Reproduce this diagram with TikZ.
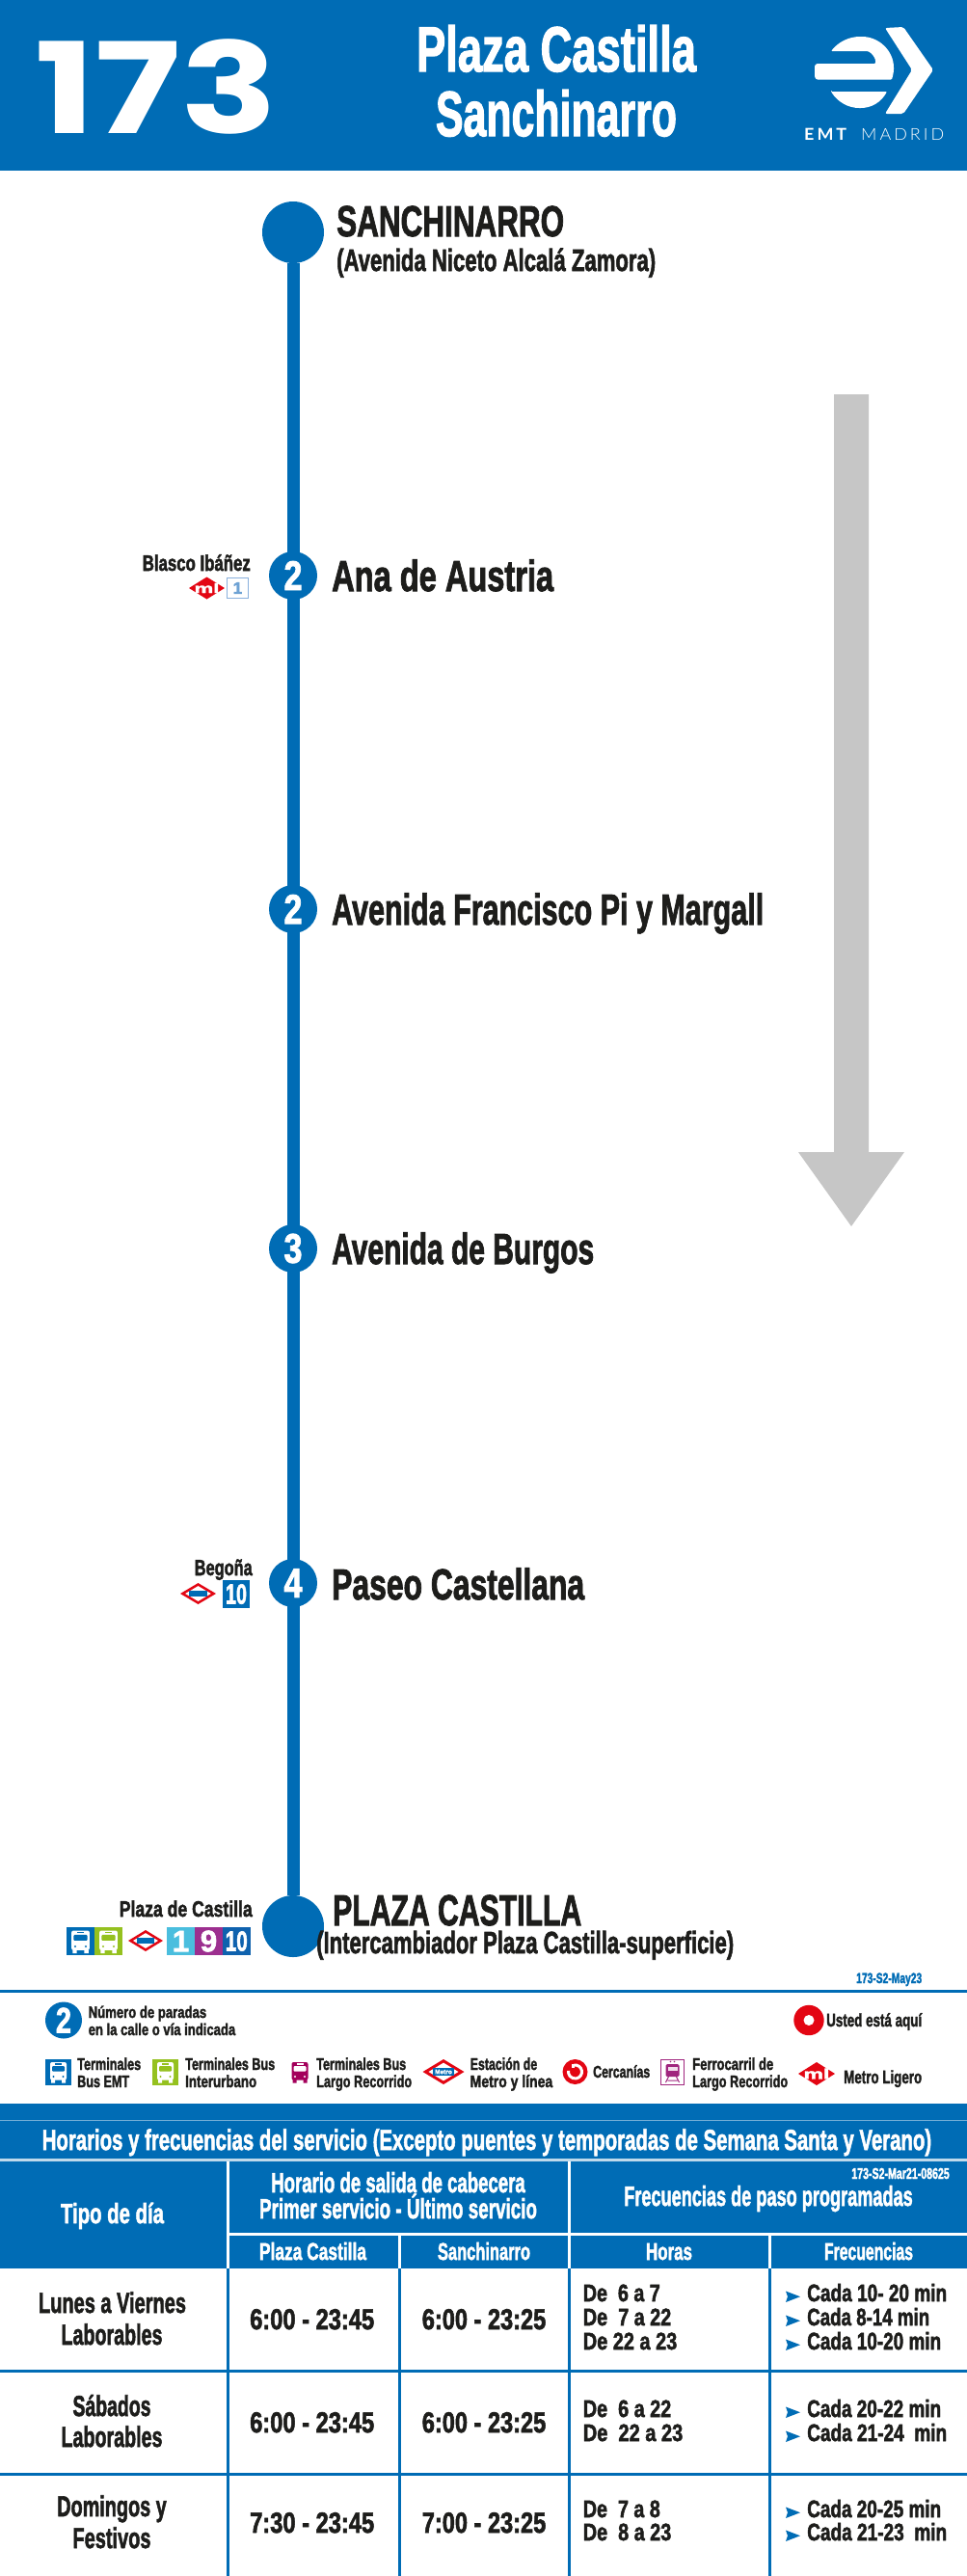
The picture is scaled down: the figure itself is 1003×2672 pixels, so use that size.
\documentclass[tikz,border=0pt]{standalone}
\usepackage{graphicx}
\usepackage{fontspec}
\setmainfont{Liberation Sans}[BoldFeatures={FakeBold=2.2}]
\newfontfamily\numfont{Poppins}
\newfontfamily\logofont{Lato}
\newfontfamily\logolight{Lato Light}
\definecolor{emt}{HTML}{006CB5}
\definecolor{ink}{HTML}{1D1D1B}
\definecolor{arrowgray}{HTML}{C6C6C6}
\definecolor{mred}{HTML}{E30613}
\definecolor{busgreen}{HTML}{95C11F}
\definecolor{lila}{HTML}{A4005B}
\definecolor{ferro}{HTML}{A0267E}
\definecolor{mone}{HTML}{4ABEDE}
\definecolor{mnine}{HTML}{9C2F8F}
\definecolor{mten}{HTML}{0F62AE}
\definecolor{mlblue}{HTML}{8AB0DC}
\tikzset{
  tw/.style={anchor=base west,inner sep=0pt,text=ink},
  tc/.style={anchor=base,inner sep=0pt,text=ink},
  te/.style={anchor=base east,inner sep=0pt,text=ink},
  stopdot/.style={circle,fill=emt,minimum size=50pt,inner sep=0pt,text=white},
  termdot/.style={circle,fill=emt,minimum size=64pt,inner sep=0pt},
  route/.style={draw=emt,line width=13pt},
  sq/.style={rectangle,minimum width=28.6pt,minimum height=29pt,inner sep=0pt,text=white},
  vrule/.style={line width=3pt},
  hrule/.style={line width=3pt}
}
\newcommand\T[7]{\node[#1] (#2) at (#3,#4) {\resizebox{#5pt}{\height}{\fontsize{#6pt}{#6pt}\selectfont\bfseries #7}};}
\newcommand\dig[1]{\resizebox{19pt}{\height}{\fontsize{43pt}{43pt}\selectfont\bfseries #1}}
\newcommand\busicon[5]{\begin{scope}[shift={(#1,#2)},scale=#3]
  \fill[#4,rounded corners=2pt] (-8.5,-10) rectangle (8.5,8.5);
  \fill[#4] (-7.5,8) rectangle (-3.5,11.5) (3.5,8) rectangle (7.5,11.5);
  \fill[#5,rounded corners=1pt] (-6.5,-6) rectangle (6.5,-0.5);
  \fill[#5] (-3.5,-8.6) rectangle (3.5,-7.4);
  \fill[#5] (-5,5) circle (1.1) (5,5) circle (1.1);
\end{scope}}
\newcommand\metrodia[5]{\begin{scope}[shift={(#1,#2)}]
  \fill[mred] (-#3/2,0) -- (0,-#4/2) -- (#3/2,0) -- (0,#4/2) -- cycle;
  \fill[white] (-#3/2*.72,0) -- (0,-#4/2*.72) -- (#3/2*.72,0) -- (0,#4/2*.72) -- cycle;
  \fill[emt] (-#3*.26,-#4*.14) rectangle (#3*.26,#4*.14);
  #5
\end{scope}}
\newcommand\mllogo[7]{\begin{scope}[shift={(#1,#2)}]
  \fill[mred] (-#3/2,0) -- (0,-#4/2) -- (#3/2,0) -- (0,#4/2) -- cycle;
  \node[inner sep=0pt,text=white] (#5) at (0,0) {\resizebox{#6pt}{\height}{\fontsize{#7pt}{#7pt}\selectfont\bfseries ml}};
\end{scope}}
\newcommand\chev[2]{\fill[emt] (#1,#2-11.5) -- (#1+15,#2-5.8) -- (#1,#2) -- (#1+2,#2-5.8) -- cycle;}
\begin{document}
\begin{tikzpicture}[x=1pt,y=-1pt]
\useasboundingbox (0,0) rectangle (1003,2672);
\fill[white] (0,0) rectangle (1003,2672);
% header
\fill[emt] (0,0) rectangle (1003,177);
\node[anchor=base west,inner sep=0pt,text=white] (num) at (36,138) {\resizebox{252pt}{\height}{\fontsize{131pt}{131pt}\selectfont\numfont\bfseries 173}};
\T{tc,text=white}{hA}{577}{74}{290}{66}{Plaza Castilla}
\T{tc,text=white}{hB}{577}{141}{250}{66}{Sanchinarro}
% logo
\fill[white,rounded corners=2pt] (918,29) -- (937,28) -- (968,72.5) -- (937,118) -- (918,118) -- (946,72.5) -- cycle;
\fill[white,rounded corners=1pt] (862,53) .. controls (870,43) and (881,38) .. (893,38) .. controls (912,38) and (927,53) .. (927,71) .. controls (927,75) and (926,79) .. (925,82.5) -- (847,82.5) -- (845,80) -- (845,68) -- (847,66) -- (908,66) -- (908,62) .. controls (906,57) and (902,53) .. (898,53) -- cycle;
\fill[white,rounded corners=1pt] (862,95) -- (920,95) .. controls (914,106) and (904,112) .. (892,112) .. controls (880,112) and (869,106) .. (862,95) -- cycle;
\node[anchor=base west,inner sep=0pt,text=white] (emtA) at (834,145) {\resizebox{44pt}{\height}{\fontsize{17pt}{17pt}\selectfont\logofont\bfseries E\,M\,T}};
\node[anchor=base west,inner sep=0pt,text=white] (emtB) at (893,145) {\resizebox{86pt}{\height}{\fontsize{17pt}{17pt}\selectfont\logolight M\,A\,D\,R\,I\,D}};
% gray arrow
\fill[arrowgray] (865,409) -- (901,409) -- (901,1195) -- (938,1195) -- (883,1272) -- (828,1195) -- (865,1195) -- cycle;
% route
\node[termdot] (top) at (304,241) {};
\node[termdot] (bot) at (304,1998) {};
\draw[route] (top) -- (bot);
\node[stopdot] (s1) at (304,597) {\dig{2}};
\node[stopdot] (s2) at (304,943) {\dig{2}};
\node[stopdot] (s3) at (304,1295) {\dig{3}};
\node[stopdot] (s4) at (304,1642) {\dig{4}};
\T{tw}{tA}{349}{245}{236}{45}{SANCHINARRO}
\T{tw}{tB}{349}{281}{331}{32}{(Avenida Niceto Alcalá Zamora)}
\T{tw}{lA}{344}{613}{230}{45}{Ana de Austria}
\T{tw}{lB}{344}{959}{448}{45}{Avenida Francisco Pi y Margall}
\T{tw}{lC}{344}{1311}{272}{45}{Avenida de Burgos}
\T{tw}{lD}{344}{1659}{262}{45}{Paseo Castellana}
\T{tw}{tC}{345}{1997}{258}{45}{PLAZA CASTILLA}
\T{tw}{tD}{328}{2026}{433}{32}{(Intercambiador Plaza Castilla-superficie)}
% side labels
\T{te}{xA}{260}{592}{112}{23}{Blasco Ibáñez}
\mllogo{214.5}{610}{37}{23}{mlA}{26}{14}
\node[rectangle,draw=mlblue,line width=1.2pt,minimum width=21.5pt,minimum height=21pt,inner sep=0pt,text=mlblue!80!emt] (boxA) at (246.5,610) {\fontsize{17pt}{17pt}\selectfont\bfseries 1};
\T{te}{xB}{262}{1634}{60}{23}{Begoña}
\metrodia{205.5}{1653}{37}{22}{}
\node[sq,fill=emt] (boxB) at (245,1653.5) {\resizebox{22pt}{\height}{\fontsize{29pt}{29pt}\selectfont\bfseries 10}};
\T{te}{xC}{262}{1988}{138}{23}{Plaza de Castilla}
\fill[emt] (69,1999) rectangle (98,2028);
\fill[busgreen] (98,1999) rectangle (127,2028);
\busicon{83.5}{2013.5}{1.1}{white}{emt}
\busicon{112.5}{2013.5}{1.1}{white}{busgreen}
\metrodia{151}{2013}{36}{22}{}
\node[sq,fill=mone] (boxC) at (187.5,2013.5) {\fontsize{31pt}{31pt}\selectfont\bfseries 1};
\node[sq,fill=mnine] (boxD) at (216.5,2013.5) {\fontsize{31pt}{31pt}\selectfont\bfseries 9};
\node[sq,fill=mten] (boxE) at (245.3,2013.5) {\resizebox{23pt}{\height}{\fontsize{29pt}{29pt}\selectfont\bfseries 10}};
% code + rule
\T{tw,text=emt}{code}{888}{2057}{68}{15}{173-S2-May23}
\fill[emt] (0,2064) rectangle (1003,2067);
% legend
\node[circle,fill=emt,minimum size=38pt,inner sep=0pt,text=white] (lg) at (66,2095.5) {\resizebox{16pt}{\height}{\fontsize{37pt}{37pt}\selectfont\bfseries 2}};
\T{tw}{lg1}{91.5}{2093}{122.5}{17}{Número de paradas}
\T{tw}{lg2}{91.5}{2111}{152.5}{17}{en la calle o vía indicada}
\fill[mred] (839,2095.5) circle (15.7);
\fill[white] (839,2095.5) circle (5.5);
\T{tw}{lg3}{857}{2102}{99}{19}{Usted está aquí}
\fill[emt] (47,2136) rectangle (74,2163);
\busicon{60.5}{2149}{1}{white}{emt}
\T{tw}{a1}{80}{2147}{66}{17.5}{Terminales}
\T{tw}{a2}{80}{2165}{54}{17.5}{Bus EMT}
\fill[busgreen] (158,2136) rectangle (185,2163);
\busicon{171.5}{2149}{1}{white}{busgreen}
\T{tw}{b1}{192}{2147}{93}{17.5}{Terminales Bus}
\T{tw}{b2}{192}{2165}{74}{17.5}{Interurbano}
\busicon{311}{2149}{1}{lila}{white}
\T{tw}{c1}{328}{2147}{93}{17.5}{Terminales Bus}
\T{tw}{c2}{328}{2165}{99}{17.5}{Largo Recorrido}
\metrodia{460}{2149}{43}{26}{\node[inner sep=0pt,text=white] (mtx) at (0,0) {\fontsize{6.5pt}{6.5pt}\selectfont\bfseries Metro};}
\T{tw}{d1}{487.5}{2147}{69.5}{17.5}{Estación de}
\T{tw}{d2}{487.5}{2165}{85.5}{17.5}{Metro y línea}
\fill[mred] (596.5,2149) circle (13);
\draw[white,line width=3pt] (595.3,2142.1) arc (-100:190:7);
\fill[white] (593,2140.8) rectangle (596,2144.5);
\T{tw}{e1}{615}{2155}{59}{17.5}{Cercanías}
\draw[ferro,line width=1.3pt] (685.6,2136.6) rectangle (709.6,2162.4);
\begin{scope}[shift={(697.5,2149)}]
 \fill[ferro,rounded corners=1.5pt] (-7,-8) rectangle (7,5);
 \fill[white!85!ferro] (-5,-5.5) rectangle (5,-1);
 \draw[ferro,line width=1pt] (-4,5) -- (-7,11) (4,5) -- (7,11) (-5,9) -- (5,9);
 \fill[ferro] (-2,-10.5) circle (.8) (2,-10.5) circle (.8);
\end{scope}
\T{tw}{f1}{718}{2147}{84}{17.5}{Ferrocarril de}
\T{tw}{f2}{718}{2165}{99}{17.5}{Largo Recorrido}
\mllogo{847}{2151}{38}{24}{mlB}{27}{15}
\T{tw}{g1}{875}{2161}{81}{19}{Metro Ligero}
% table header
\fill[emt] (0,2182) rectangle (1003,2353);
\fill[white!45!emt] (0,2198.7) rectangle (1003,2199.7);
\fill[white!75!emt] (0,2239) rectangle (1003,2242);
\T{tw,text=white}{h0}{43.5}{2230}{922.5}{30}{Horarios y frecuencias del servicio (Excepto puentes y temporadas de Semana Santa y Verano)}
\draw[white,vrule] (236,2242) -- (236,2353) (590.5,2242) -- (590.5,2353) (414,2317.5) -- (414,2353) (798,2317.5) -- (798,2353);
\draw[white,hrule] (236,2317.5) -- (1003,2317.5);
\T{tc,text=white}{h1}{116.5}{2306}{107}{29}{Tipo de día}
\T{tc,text=white}{h2}{413}{2274}{263.5}{29}{Horario de salida de cabecera}
\T{tc,text=white}{h3}{413}{2301}{288}{29}{Primer servicio - Último servicio}
\T{te,text=white}{h4}{985}{2260}{101.5}{16}{173-S2-Mar21-08625}
\T{tc,text=white}{h5}{797}{2288}{299.5}{29}{Frecuencias de paso programadas}
\T{tc,text=white}{h6}{324.5}{2344}{111}{25}{Plaza Castilla}
\T{tc,text=white}{h7}{502}{2344}{96}{25}{Sanchinarro}
\T{tc,text=white}{h8}{694}{2344}{48}{25}{Horas}
\T{tc,text=white}{h9}{901}{2344}{92}{25}{Frecuencias}
% table body
\draw[emt,vrule] (236,2353) -- (236,2672) (414,2353) -- (414,2672) (590.5,2353) -- (590.5,2672) (798,2353) -- (798,2672);
\draw[emt,hrule] (0,2459.5) -- (1003,2459.5) (0,2566) -- (1003,2566);
% row 1
\T{tc}{r1a}{116.5}{2399}{153}{30}{Lunes a Viernes}
\T{tc}{r1b}{116}{2432}{105}{30}{Laborables}
\T{tw}{r1c}{259}{2416}{129}{30}{6:00 - 23:45}
\T{tw}{r1d}{437.6}{2416}{128.5}{30}{6:00 - 23:25}
\T{tw}{r1e}{604.6}{2387}{80}{25}{De~~6 a 7}
\T{tw}{r1f}{604.6}{2412}{91.5}{25}{De~~7 a 22}
\T{tw}{r1g}{604.6}{2437}{97.5}{25}{De 22 a 23}
\chev{815}{2388}\T{tw}{r1h}{837}{2387}{145}{25}{Cada 10- 20 min}
\chev{815}{2413}\T{tw}{r1i}{837}{2412}{127}{25}{Cada 8-14 min}
\chev{815}{2438}\T{tw}{r1j}{837}{2437}{139}{25}{Cada 10-20 min}
% row 2
\T{tc}{r2a}{116}{2506}{81}{30}{Sábados}
\T{tc}{r2b}{116}{2538}{105}{30}{Laborables}
\T{tw}{r2c}{259}{2523}{129}{30}{6:00 - 23:45}
\T{tw}{r2d}{437.6}{2523}{128.5}{30}{6:00 - 23:25}
\T{tw}{r2e}{604.6}{2507}{91.5}{25}{De~~6 a 22}
\T{tw}{r2f}{604.6}{2532}{103.5}{25}{De~~22 a 23}
\chev{815}{2508}\T{tw}{r2g}{837}{2507}{139}{25}{Cada 20-22 min}
\chev{815}{2533}\T{tw}{r2h}{837}{2532}{145}{25}{Cada 21-24~~min}
% row 3
\T{tc}{r3a}{116}{2610}{113.5}{30}{Domingos y}
\T{tc}{r3b}{116}{2643}{81}{30}{Festivos}
\T{tw}{r3c}{259}{2627}{129}{30}{7:30 - 23:45}
\T{tw}{r3d}{437.6}{2627}{128.5}{30}{7:00 - 23:25}
\T{tw}{r3e}{604.6}{2611}{80}{25}{De~~7 a 8}
\T{tw}{r3f}{604.6}{2635}{91.5}{25}{De~~8 a 23}
\chev{815}{2612}\T{tw}{r3g}{837}{2611}{139}{25}{Cada 20-25 min}
\chev{815}{2636}\T{tw}{r3h}{837}{2635}{145}{25}{Cada 21-23~~min}
\end{tikzpicture}
\end{document}
